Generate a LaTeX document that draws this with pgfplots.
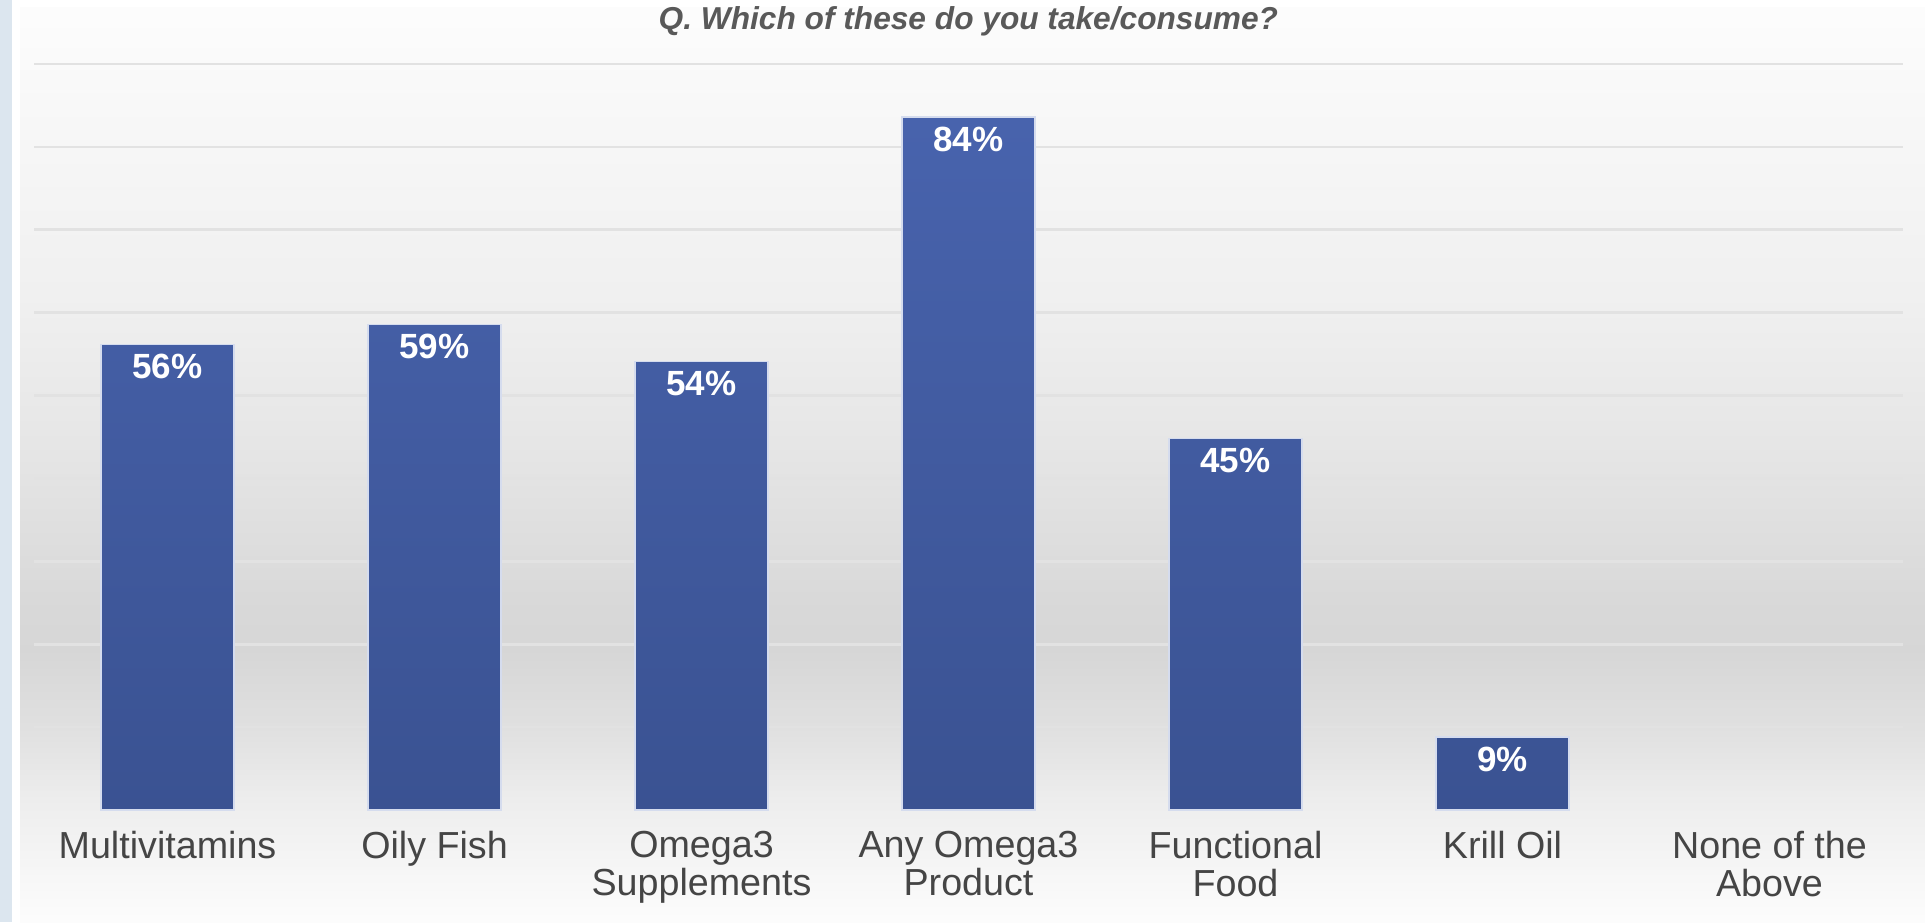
\documentclass[border=0pt]{standalone}
\usepackage{fontspec}
\setmainfont{Liberation Sans}
\usepackage{pgfplots}
\pgfplotsset{compat=1.18}

\definecolor{barTop}{HTML}{4863AD}
\definecolor{barBot}{HTML}{3A5292}
\definecolor{barEdge}{HTML}{D5DCEE}
\definecolor{gridGray}{HTML}{E2E2E2}
\definecolor{labelGray}{HTML}{454545}
\definecolor{titleGray}{HTML}{595959}
\definecolor{edgeBlue}{HTML}{DCE6EF}

\begin{document}
\begin{tikzpicture}[x=1pt,y=1pt]
\useasboundingbox (0,0) rectangle (577.5,276.6);
% background: white page, bluish left edge, soft grey vertical gradient
\fill[white] (0,0) rectangle (577.5,276.6);
\fill[edgeBlue] (0,0) rectangle (3.6,276.6);
\shade[top color=white!99!black, bottom color=white!98!black] (6,258.6) rectangle (577.5,274.2);
\shade[top color=white!98!black, bottom color=white!94!black] (6,186.6) rectangle (577.5,258.6);
\shade[top color=white!94!black, bottom color=white!90!black] (6,141.6) rectangle (577.5,186.6);
\shade[top color=white!90!black, bottom color=white!85!black] (6,96.6) rectangle (577.5,141.6);
\shade[top color=white!85!black, bottom color=white!84!black] (6,81.6) rectangle (577.5,96.6);
\shade[top color=white!84!black, bottom color=white!88!black] (6,57.6) rectangle (577.5,81.6);
\shade[top color=white!88!black, bottom color=white!93!black] (6,36.6) rectangle (577.5,57.6);
\shade[top color=white!93!black, bottom color=white!99!black] (6,0) rectangle (577.5,36.6);

\node[font=\bfseries\itshape\fontsize{9.5}{11}\selectfont, text=titleGray] at (290.5,270.3)
  {Q. Which of these do you take/consume?};

\begin{axis}[
    at={(10.2pt,33.6pt)}, anchor=south west,
    scale only axis,
    width=560.7pt, height=223.8pt,
    xmin=-0.5, xmax=6.5,
    ymin=0, ymax=90,
    ybar, bar width=39.9pt,
    axis line style={draw=none},
    major tick length=0pt,
    xtick={0,...,6},
    xticklabels={Multivitamins, Oily Fish, {Omega3\\Supplements}, {Any Omega3\\Product},
                 {Functional\\Food}, Krill Oil, {None of the\\Above}},
    xticklabel style={align=center, font=\fontsize{11.3}{11.6}\selectfont,
                      text=labelGray, yshift=-2.7pt},
    ytick={10,20,...,90}, yticklabels={},
    ymajorgrids, grid style={gridGray, line width=0.8pt},
    /pgf/number format/assume math mode=true,
    nodes near coords={\pgfmathprintnumber[fixed,precision=0]{\pgfplotspointmeta}\%},
    every node near coord/.append style={anchor=center, yshift=-6.6pt, text=white,
                                         font=\bfseries\fontsize{10.5}{12}\selectfont},
]
\addplot[draw=barEdge, line width=0.4pt, top color=barTop, bottom color=barBot]
  coordinates {(0,56.2) (1,58.6) (2,54.1) (3,83.6) (4,44.8) (5,8.8)};
\end{axis}
\end{tikzpicture}
\end{document}
